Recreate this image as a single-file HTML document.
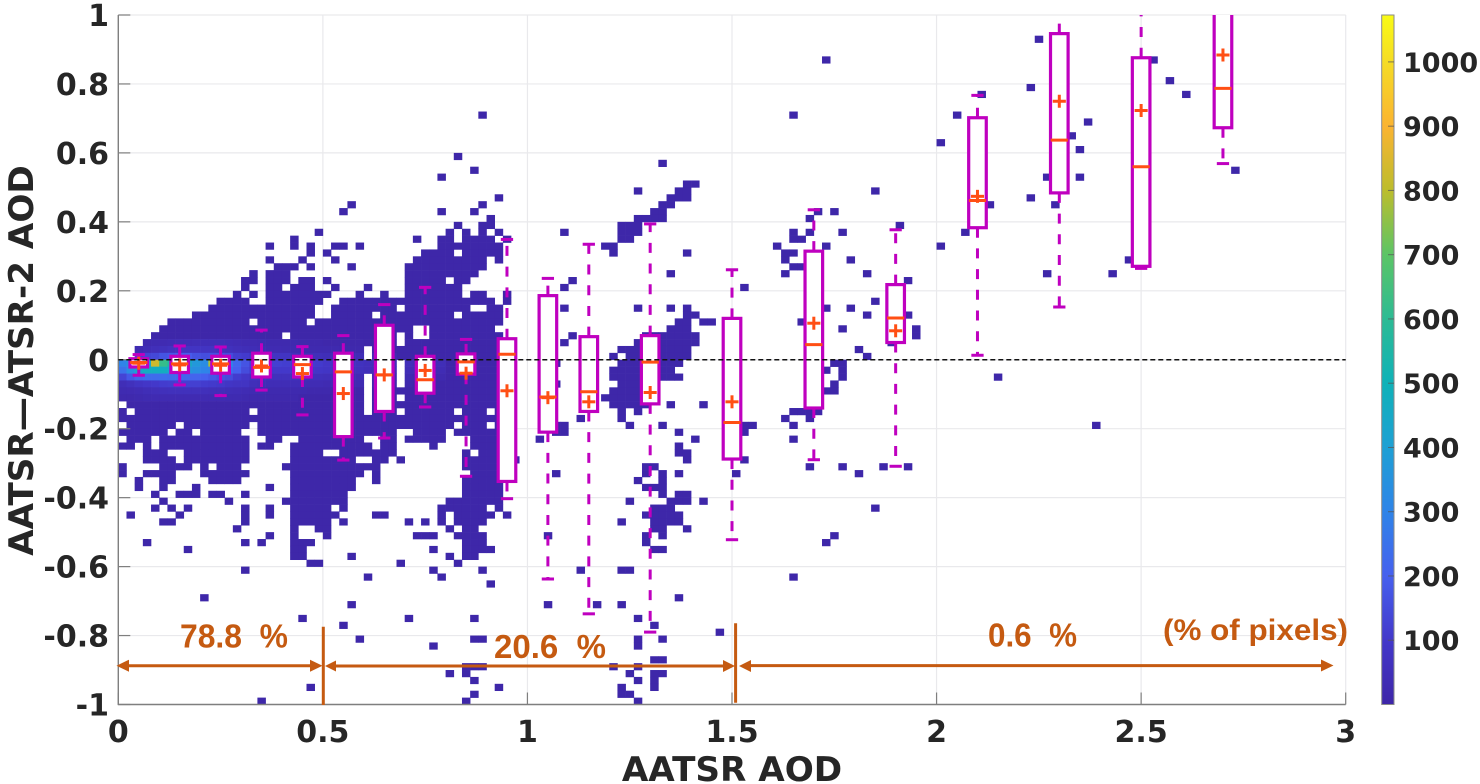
<!DOCTYPE html>
<html lang="en">
<head>
<meta charset="utf-8">
<title>AATSR minus ATSR-2 AOD density with box plots</title>
<style>
  html, body { margin: 0; padding: 0; background: #fff; }
  body { width: 1480px; height: 784px; overflow: hidden; }
  svg { display: block; }
  .tick { font-family: "DejaVu Sans", "Liberation Sans", sans-serif; font-weight: 700; font-size: 30px; fill: #262626; }
  .cb { font-family: "DejaVu Sans", "Liberation Sans", sans-serif; font-weight: 700; font-size: 27px; fill: #262626; }
  .title { font-family: "DejaVu Sans", "Liberation Sans", sans-serif; font-weight: 700; font-size: 34.2px; fill: #262626; }
  .note { font-family: "Liberation Sans", sans-serif; font-weight: 700; font-size: 33px; fill: #c55a11; white-space: pre; }
</style>
</head>
<body>
<svg id="chart" width="1480" height="784" viewBox="0 0 1480 784" xmlns="http://www.w3.org/2000/svg">
  <defs>
    <clipPath id="plotClip"><rect x="118.3" y="15" width="1227.4" height="689.5"></rect></clipPath>
    <linearGradient id="cbGrad" x1="0" y1="1" x2="0" y2="0"></linearGradient>
  </defs>
  <rect x="0" y="0" width="1480" height="784" fill="#ffffff"></rect>
  <g id="grid"></g>
  <g id="heat" clip-path="url(#plotClip)"></g>
  <g id="axes"></g>
  <g id="boxes" clip-path="url(#plotClip)"></g>
  <g id="zero"></g>
  <g id="colorbar"></g>
  <text class="title" x="732" y="781" text-anchor="middle">AATSR AOD</text>
  <text class="title" transform="translate(33,360.5) rotate(-90)" text-anchor="middle">AATSR—ATSR-2 AOD</text>

  <g>
    <g fill="#c55a11" stroke="none">
      <line x1="124" y1="665.7" x2="314" y2="665.7" stroke="#c55a11" stroke-width="3"></line>
      <polygon points="116.5,665.7 129,659.7 129,671.7"></polygon>
      <polygon points="322.5,665.7 310,659.7 310,671.7"></polygon>
    </g>
    <line x1="323.3" y1="626.7" x2="323.3" y2="705" stroke="#c55a11" stroke-width="3"></line>
    <g fill="#c55a11" stroke="none">
      <line x1="332" y1="666" x2="727" y2="666" stroke="#c55a11" stroke-width="3"></line>
      <polygon points="325,666 336,660.5 336,671.5"></polygon>
      <polygon points="735,666 723,660 723,672"></polygon>
    </g>
    <line x1="735.6" y1="623.3" x2="735.6" y2="702.7" stroke="#c55a11" stroke-width="3"></line>
    <g fill="#c55a11" stroke="none">
      <line x1="746" y1="665.6" x2="1325" y2="665.6" stroke="#c55a11" stroke-width="3"></line>
      <polygon points="739,666 751,660 751,672"></polygon>
      <polygon points="1333.5,665.5 1321,659.5 1321,671.5"></polygon>
    </g>
    <text class="note" x="180" y="647.7" textLength="108" lengthAdjust="spacingAndGlyphs">78.8  %</text>
    <text class="note" x="494" y="658" textLength="112" lengthAdjust="spacingAndGlyphs">20.6  %</text>
    <text class="note" x="988" y="646.7" textLength="89" lengthAdjust="spacingAndGlyphs">0.6  %</text>
    <text class="note" x="1163" y="640" style="font-size:29.5px" textLength="185" lengthAdjust="spacingAndGlyphs">(% of pixels)</text>
  </g>
</svg>

<script>
// ---- chart data ----
const xTicks = [0, 0.5, 1, 1.5, 2, 2.5, 3];
const xTickLabels = ['0', '0.5', '1', '1.5', '2', '2.5', '3'];
const yTicks = [-1, -0.8, -0.6, -0.4, -0.2, 0, 0.2, 0.4, 0.6, 0.8, 1];
const yTickLabels = ['-1', '-0.8', '-0.6', '-0.4', '-0.2', '0', '0.2', '0.4', '0.6', '0.8', '1'];
const colorbarTicks = [100, 200, 300, 400, 500, 600, 700, 800, 900, 1000];
const colorbarLabels = ['100', '200', '300', '400', '500', '600', '700', '800', '900', '1000'];
const countMax = 1073;
const colormapValues = [0, 100, 200, 300, 400, 500, 600, 700, 800, 900, 1000, 1073];
const colormapColors = ['#3e26a8', '#4338ca', '#4660ee', '#2f84e8', '#1ea0d4', '#10b2b8', '#2dbb94', '#5cc566', '#bcbd2d', '#fbb431', '#f5dc25', '#f9fb15'];

// 2-D histogram: bin widths, then occupied bins per row as [rowIndex, colStart, colEnd, colStart, colEnd, ...]
const binWidthAod = 0.02;
const binHeightDiff = 0.02;
const baseCount = 4;
const occupiedBins = [
[3,112,112],[6,86,86,126,126],[9,128,128],[10,111,111],[11,105,105,130,130],
[14,44,44,82,82,102,102],[15,118,118],[17,116,116],[18,100,100],[19,117,117],
[20,41,41],[21,66,66],[22,43,43,136,136],[23,39,39,113,113,117,117],[24,69,70],
[25,63,63,68,69,92,92],[26,46,46,67,69,111,111],[27,28,28,44,44,66,67,106,106,114,114],
[28,27,27,39,39,43,43,65,66,85,85,87,87],[29,45,45,63,66,84,84],
[30,41,41,44,45,61,63,95,95],
[31,24,24,40,40,42,42,44,44,46,46,54,54,61,63,82,82,84,84,88,88,103,103],
[32,21,21,36,36,39,40,42,45,47,47,61,62,82,83],
[33,18,18,21,21,23,23,26,27,29,29,39,46,59,60,80,80,86,86,100,100],
[34,23,23,25,25,37,40,42,46,60,60,69,69,81,82],
[35,18,18,22,22,26,26,36,44,46,46,81,81,89,89,123,123],
[36,19,21,23,23,28,28,35,44,82,83],
[37,16,16,18,20,35,43,67,67,81,81,91,91,113,113,121,121],
[38,15,16,18,20,22,23,25,25,35,39,41,42,55,55,96,96],
[39,15,15,18,19,21,23,26,26,30,30,35,41,54,54,76,76],
[40,14,14,16,16,18,25,29,29,32,32,35,41,43,44,47,47],
[41,12,15,18,24,27,45,47,47,92,92],
[42,11,23,26,33,35,42,45,46,54,54,63,63,67,67,69,69,86,86,89,89],
[43,9,23,26,30,32,40,42,46,69,70,91,91,96,96],
[44,6,15,17,22,24,46,68,69,71,72,83,83],
[45,5,35,38,45,67,69,88,88,97,97],
[46,4,19,21,33,35,35,38,46,55,55,64,70,97,97],
[47,3,33,35,46,54,54,63,70,94,94],
[48,2,29,31,46,61,69,90,90],
[49,2,29,31,47,60,60,62,69,91,91],
[50,0,33,35,47,53,53,61,68,87,88],
[51,0,33,35,47,60,67,86,86,88,88],
[52,0,29,31,33,35,47,60,68,88,88,107,107],
[53,0,29,31,33,35,47,53,53,61,65,87,87],
[54,0,29,31,46,60,64,86,87],
[55,0,29,31,33,35,46,59,64],
[56,1,29,31,46,60,64,67,67,71,71],
[57,0,0,2,15,17,29,31,33,35,40,42,44,46,46,61,61,63,63,82,85],
[58,0,46,56,56,61,61,81,81,84,84],
[59,1,6,8,15,17,40,42,44,46,46,53,54,62,62,66,66,76,77,82,82,119,119],
[60,0,5,7,8,10,14,17,33,36,39,41,46,53,54,68,68,76,76],
[61,1,3,5,15,18,19,22,29,32,33,35,39,43,46,51,51,70,70,82,82],
[62,0,1,3,3,5,15,17,18,21,30,32,33,38,38,43,46,68,68],
[63,3,5,8,15,21,24,27,33,42,42,44,46,68,69],
[64,3,6,8,15,21,28,31,32,34,34,42,46,48,48,69,69,76,76],
[65,0,0,5,8,10,10,12,14,20,31,42,46,64,65,84,84,88,88,93,93,96,96],
[66,0,0,3,6,10,15,21,29,31,31,43,46,53,53,64,64,66,66,68,68,75,75,90,90],
[67,2,2,5,6,11,14,21,28,31,31,42,46,63,63,66,66],
[68,2,2,5,5,9,9,18,18,21,28,42,46,64,66],
[69,4,4,7,9,11,12,15,15,21,27,42,46,66,66,68,69],
[70,5,5,13,13,20,27,40,46,62,62,67,69,71,71],
[71,4,4,6,6,8,8,15,15,18,18,21,25,27,27,39,44,46,46,65,67,92,92],
[72,1,1,7,7,15,15,18,18,21,26,31,32,39,39,41,45,47,47,64,68],
[73,5,6,15,15,21,25,27,27,35,35,37,37,39,39,41,44,61,61,65,68],
[74,14,14,21,21,24,25,40,40,42,43,65,66,69,69],
[75,18,18,21,21,25,25,36,38,41,44,52,52,64,64,66,66,87,87],
[76,3,3,15,15,17,17,21,23,42,44,64,64,86,86],
[77,8,8,21,22,38,38,42,45,65,66],
[78,21,22,28,28,40,40,42,43],
[79,23,24,34,34,41,41],
[80,15,15,38,38,44,44,56,56,61,62],
[81,30,30,39,39,82,82],
[82,45,45],
[84,10,10,68,68],
[85,28,28,52,52,58,58,61,61],
[87,22,22,35,35,43,43,63,63],
[88,27,27,65,65],
[89,73,73],
[90,29,29,43,44,63,63,66,66],
[91,38,38,63,63],
[93,65,66],
[94,42,44,60,60,63,63],
[95,40,40,42,42,62,62,65,66],
[96,43,43,63,63,65,65],
[97,23,23,46,46,61,61,65,65],
[98,43,43,61,62],
[99,17,17,42,42,63,63]
];

// higher-count bins near zero difference: [rowIndex, count at col 0, count at col 1, ...]
const hotBins = [
[47,15,15,15,20,25,30,35,40,40,45,45,45,45,40,35,30,30,25,20,20,20,20,15,15,15,10,10,10,10,10],
[48,20,20,25,40,50,60,70,75,80,80,75,75,65,60,50,45,40,35,30,30,25,25,20,20,20,20,20,15,15,15],
[49,50,80,120,130,140,170,180,190,190,165,155,160,160,150,115,105,85,80,80,75,75,55,50,50,50,45,45,45,40,40,35,35,30,30],
[50,300,340,380,420,830,620,560,500,450,370,330,780,300,300,220,170,125,120,120,120,115,110,110,110,105,90,75,70,70,65,55,55,50,50,50,50,45,45,45,45],
[51,250,330,430,470,470,470,420,400,370,340,300,300,280,250,200,150,120,105,100,100,100,100,95,95,90,85,70,65,60,60,50,50,45,45,45,40,40,40,35,35],
[52,130,180,210,230,230,240,230,220,210,210,200,180,160,150,110,90,70,65,60,60,60,60,60,55,55,50,45,40,40,35,30,30,25,25,25,25,20,20,20,20],
[53,45,60,80,90,100,110,115,120,120,120,110,105,100,85,75,75,50,45,40,40,40,40,40,35,35,30,30,25,25,25,20,20,15,15,15,15],
[54,25,30,35,45,50,55,60,60,60,60,55,50,50,45,40,35,30,25,20,20,20,20,20,15,15,15],
[55,15,15,20,25,30,30,30,30,30,30,30,30,30,25,25,20,15,15,15,15,15,15]
];

// box-plot statistics per AOD bin
const boxCentres = [0.05, 0.15, 0.25, 0.35, 0.45, 0.55, 0.65, 0.75, 0.85, 0.95, 1.05, 1.15, 1.3, 1.5, 1.7, 1.9, 2.1, 2.3, 2.5, 2.7];
const whiskerHigh = [0.015, 0.04, 0.037, 0.086, 0.038, 0.07, 0.16, 0.21, 0.059, 0.349, 0.236, 0.335, 0.394, 0.261, 0.435, 0.377, 0.767, 1.08, 1.12, 1.3];
const boxQ3 = [0.003, 0.01, 0.01, 0.019, 0.01, 0.019, 0.1, 0.01, 0.017, 0.061, 0.186, 0.067, 0.07, 0.12, 0.315, 0.218, 0.702, 0.946, 0.876, 1.1];
const boxMedian = [-0.008, -0.012, -0.012, -0.022, -0.014, -0.035, -0.044, -0.058, -0.006, 0.016, -0.108, -0.093, -0.007, -0.182, 0.044, 0.121, 0.462, 0.637, 0.56, 0.787];
const boxQ1 = [-0.021, -0.037, -0.039, -0.05, -0.05, -0.223, -0.15, -0.097, -0.042, -0.353, -0.21, -0.15, -0.128, -0.288, -0.14, 0.05, 0.383, 0.484, 0.271, 0.673];
const whiskerLow = [-0.045, -0.073, -0.104, -0.088, -0.16, -0.291, -0.227, -0.137, -0.338, -0.403, -0.636, -0.737, -0.79, -0.522, -0.29, -0.309, 0.013, 0.153, 0.265, 0.569];
const boxMean = [-0.01, -0.015, -0.016, -0.018, -0.04, -0.098, -0.044, -0.031, -0.039, -0.09, -0.11, -0.122, -0.095, -0.122, 0.106, 0.084, 0.474, 0.75, 0.723, 0.884];

// ---- axis functions ----
const NS = 'http://www.w3.org/2000/svg';
const plotLeft = 118.3, plotRight = 1345.7, plotTop = 15, plotBottom = 704.5;
const xDomain = [0, 3], yDomain = [-1, 1];
function xScale(v) { return plotLeft + (v - xDomain[0]) / (xDomain[1] - xDomain[0]) * (plotRight - plotLeft); }
function yScale(v) { return plotBottom - (v - yDomain[0]) / (yDomain[1] - yDomain[0]) * (plotBottom - plotTop); }
const cbLeft = 1381.7, cbRight = 1394;
function cbScale(v) { return plotBottom - v / countMax * (plotBottom - plotTop); }

function shape(parent, tag, attrs) {
  const node = document.createElementNS(NS, tag);
  for (const k in attrs) node.setAttribute(k, attrs[k]);
  parent.appendChild(node);
  return node;
}
function hexToRgb(h) {
  return [parseInt(h.slice(1, 3), 16), parseInt(h.slice(3, 5), 16), parseInt(h.slice(5, 7), 16)];
}
function countColor(count) {
  const c = Math.max(0, Math.min(countMax, count));
  let i = 0;
  while (i < colormapValues.length - 2 && c > colormapValues[i + 1]) i++;
  const f = (c - colormapValues[i]) / (colormapValues[i + 1] - colormapValues[i]);
  const a = hexToRgb(colormapColors[i]), b = hexToRgb(colormapColors[i + 1]);
  return 'rgb(' + a.map(function (v, k) { return Math.round(v + (b[k] - v) * f); }).join(',') + ')';
}

// ---- grid ----
const gridG = document.getElementById('grid');
xTicks.forEach(function (t) {
  const el = shape(gridG, 'line', { x1: xScale(t), x2: xScale(t), y1: plotTop, y2: plotBottom, stroke: '#e9e9ec', 'stroke-width': 1.2 });
  
  
});
yTicks.forEach(function (t) {
  const el = shape(gridG, 'line', { x1: plotLeft, x2: plotRight, y1: yScale(t), y2: yScale(t), stroke: '#e9e9ec', 'stroke-width': 1.2 });
  
  
});

// ---- heatmap ----
const heatG = document.getElementById('heat');
const hotLookup = {};
hotBins.forEach(function (row) {
  for (let i = 1; i < row.length; i++) hotLookup[row[0] * 1000 + i - 1] = row[i];
});
occupiedBins.forEach(function (row) {
  const r = row[0];
  const top = yScale(yDomain[1] - r * binHeightDiff);
  const bottom = yScale(yDomain[1] - (r + 1) * binHeightDiff);
  for (let p = 1; p + 1 < row.length; p += 2) {
    for (let c = row[p]; c <= row[p + 1]; c++) {
      const x0 = xScale(c * binWidthAod), x1 = xScale((c + 1) * binWidthAod);
      const key = r * 1000 + c;
      const count = hotLookup[key] !== undefined ? hotLookup[key] : baseCount;
      const el = shape(heatG, 'rect', { x: x0, y: top, width: x1 - x0 + 0.3, height: bottom - top + 0.3, fill: countColor(count) });
      
      
    }
  }
});

// ---- axes ----
const axesG = document.getElementById('axes');
const axisLeft = shape(axesG, 'line', { x1: plotLeft, x2: plotLeft, y1: plotTop, y2: plotBottom + 0.6, stroke: '#7f7f7f', 'stroke-width': 1.4 });


const axisBottom = shape(axesG, 'line', { x1: plotLeft, x2: plotRight, y1: plotBottom, y2: plotBottom, stroke: '#7f7f7f', 'stroke-width': 1.4 });


xTicks.forEach(function (t, i) {
  const tick = shape(axesG, 'line', { x1: xScale(t), x2: xScale(t), y1: plotBottom, y2: plotBottom - 12, stroke: '#7f7f7f', 'stroke-width': 1.2 });
  
  
  const label = shape(axesG, 'text', { x: xScale(t), y: 742, 'text-anchor': 'middle', class: 'tick' });
  label.textContent = xTickLabels[i];
  
  
});
yTicks.forEach(function (t, i) {
  const tick = shape(axesG, 'line', { x1: plotLeft, x2: plotLeft + 12, y1: yScale(t), y2: yScale(t), stroke: '#7f7f7f', 'stroke-width': 1.2 });
  
  
  const label = shape(axesG, 'text', { x: 109, y: yScale(t) + 11, 'text-anchor': 'end', class: 'tick' });
  label.textContent = yTickLabels[i];
  
  
});

// ---- box plots ----
const boxesG = document.getElementById('boxes');
const boxWidthAod = 0.043, capWidthAod = 0.03, medianWidthAod = 0.042, meanArmAod = 0.016;
const boxColor = '#bf00bf', centreColor = '#ff4f14';
boxCentres.forEach(function (cx, i) {
  const px = xScale(cx);
  const upper = shape(boxesG, 'line', { x1: px, x2: px, y1: yScale(boxQ3[i]), y2: yScale(whiskerHigh[i]), stroke: boxColor, 'stroke-width': 3, 'stroke-dasharray': '10 10.7' });
  
  
  const lower = shape(boxesG, 'line', { x1: px, x2: px, y1: yScale(boxQ1[i]), y2: yScale(whiskerLow[i]), stroke: boxColor, 'stroke-width': 3, 'stroke-dasharray': '10 10.7' });
  
  
  const capHigh = shape(boxesG, 'line', { x1: xScale(cx - capWidthAod / 2), x2: xScale(cx + capWidthAod / 2), y1: yScale(whiskerHigh[i]), y2: yScale(whiskerHigh[i]), stroke: boxColor, 'stroke-width': 3 });
  
  
  const capLow = shape(boxesG, 'line', { x1: xScale(cx - capWidthAod / 2), x2: xScale(cx + capWidthAod / 2), y1: yScale(whiskerLow[i]), y2: yScale(whiskerLow[i]), stroke: boxColor, 'stroke-width': 3 });
  
  
  const rect = shape(boxesG, 'rect', {
    x: xScale(cx - boxWidthAod / 2), y: yScale(boxQ3[i]),
    width: xScale(cx + boxWidthAod / 2) - xScale(cx - boxWidthAod / 2),
    height: yScale(boxQ1[i]) - yScale(boxQ3[i]),
    fill: '#ffffff', stroke: boxColor, 'stroke-width': 3.2
  });
  
  
  const med = shape(boxesG, 'line', { x1: xScale(cx - medianWidthAod / 2), x2: xScale(cx + medianWidthAod / 2), y1: yScale(boxMedian[i]), y2: yScale(boxMedian[i]), stroke: centreColor, 'stroke-width': 3 });
  
  
  const meanH = shape(boxesG, 'line', { x1: xScale(cx - meanArmAod), x2: xScale(cx + meanArmAod), y1: yScale(boxMean[i]), y2: yScale(boxMean[i]), stroke: centreColor, 'stroke-width': 3 });
  
  
  const meanV = shape(boxesG, 'line', { x1: px, x2: px, y1: yScale(boxMean[i]) - 6.5, y2: yScale(boxMean[i]) + 6.5, stroke: centreColor, 'stroke-width': 3 });
  
  
});

// ---- zero line ----
const zeroLine = shape(document.getElementById('zero'), 'line', { x1: plotLeft, x2: plotRight, y1: yScale(0), y2: yScale(0), stroke: '#111111', 'stroke-width': 1.6, 'stroke-dasharray': '5 3' });



// ---- colorbar ----
const gradient = document.getElementById('cbGrad');
colormapValues.forEach(function (v, i) {
  const st = shape(gradient, 'stop', { offset: v / countMax, 'stop-color': colormapColors[i] });
  
  
});
const cbG = document.getElementById('colorbar');
const cbRect = shape(cbG, 'rect', { x: cbLeft, y: plotTop, width: cbRight - cbLeft, height: plotBottom - plotTop, fill: 'url(#cbGrad)', stroke: '#8a8a8a', 'stroke-width': 1 });


colorbarTicks.forEach(function (t, i) {
  const tick = shape(cbG, 'line', { x1: cbRight - 6, x2: cbRight, y1: cbScale(t), y2: cbScale(t), stroke: '#555555', 'stroke-width': 1, 'stroke-opacity': 0.75 });
  
  
  const label = shape(cbG, 'text', { x: 1403, y: cbScale(t) + 10, class: 'cb' });
  label.textContent = colorbarLabels[i];
  
  
});
</script>
</body>
</html>
